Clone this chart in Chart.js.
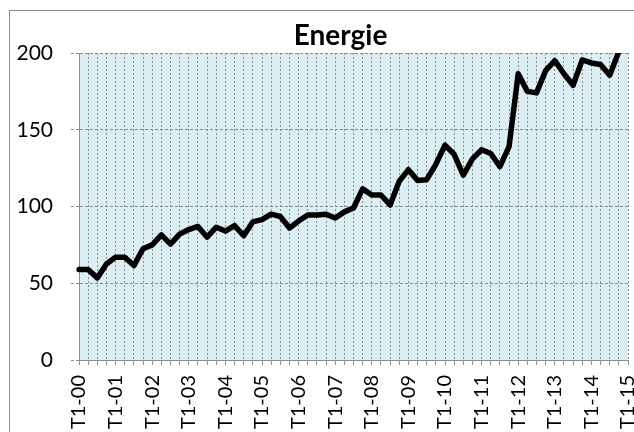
<!DOCTYPE html>
<html>
<head>
<meta charset="utf-8">
<script src="https://cdn.jsdelivr.net/npm/chart.js@4/dist/chart.umd.min.js"></script>
<style>
  html, body { margin: 0; padding: 0; background: #ffffff; }
  #wrap { width: 634px; height: 432px; position: relative; }
</style>
</head>
<body>
<div id="wrap"><canvas id="c" width="634" height="432"></canvas></div>
<script>
// ---- data ----
const years = ['00','01','02','03','04','05','06','07','08','09','10','11','12','13','14','15'];
const quarters = ['T1','T2','T3','T4'];
const categories = years.flatMap(y => quarters.map(q => q + '-' + y)).slice(0, 61);
const energie = [
  59, 59, 53.5, 62.5, 67, 67, 61.5, 72.5,
  75, 81.5, 75.5, 82, 85, 87, 80, 86.5,
  84, 87.5, 81, 90, 91.5, 95, 93.5, 86,
  90.5, 94.5, 94.5, 95, 92.5, 96.5, 99, 111.5,
  107.5, 107.5, 101, 116.5, 124, 117, 117.5, 127.5,
  140, 134, 120.5, 131, 137, 134.5, 126, 139,
  186.5, 175, 174, 188.5, 195, 186.5, 179, 195.5,
  193.5, 192.5, 185.5, 201, null
];
const yTicks = [0, 50, 100, 150, 200];
const chartTitle = 'Energie';

const bgPlugin = {
  id: 'bg',
  beforeDraw(chart) {
    const ctx = chart.ctx, a = chart.chartArea;
    ctx.save();
    ctx.strokeStyle = '#8c8c8c';
    ctx.lineWidth = 1;
    ctx.strokeRect(9.5, 10.5, 1000, 1000);
    ctx.fillStyle = '#DAEEF3';
    ctx.fillRect(a.left, a.top, a.right - a.left, a.bottom - a.top);
    ctx.restore();
  }
};

const titlePlugin = {
  id: 'titleText',
  afterDraw(chart) {
    const ctx = chart.ctx, a = chart.chartArea;
    ctx.save();
    ctx.fillStyle = '#000000';
    ctx.font = 'bold 28px Lato';
    ctx.textAlign = 'center';
    ctx.textBaseline = 'alphabetic';
    ctx.fillText(chartTitle, (a.left + a.right) / 2 - 13, a.top - 8);
    ctx.restore();
  }
};

new Chart(document.getElementById('c'), {
  type: 'line',
  data: {
    labels: categories,
    datasets: [{
      label: chartTitle,
      data: energie,
      borderColor: '#000000',
      borderWidth: 5.5,
      borderJoinStyle: 'round',
      borderCapStyle: 'round',
      pointRadius: 0,
      tension: 0,
      fill: false
    }]
  },
  options: {
    responsive: false,
    animation: false,
    layout: { padding: { left: 10, right: 6, top: 53, bottom: 0 } },
    plugins: {
      legend: { display: false },
      tooltip: { enabled: false },
      title: { display: false }
    },
    scales: {
      x: {
        type: 'category',
        offset: false,
        grid: {
          color: '#8f8f8f',
          lineWidth: 1,
          tickLength: 5,
          tickColor: '#8f8f8f',
          tickBorderDash: []
        },
        border: { display: true, color: '#8c8c8c', width: 1, dash: [2, 2] },
        ticks: {
          autoSkip: false,
          minRotation: 90,
          maxRotation: 90,
          padding: 10,
          color: '#000000',
          font: { family: 'Lato', size: 20 },
          callback: function(value) {
            const l = this.getLabelForValue(value);
            return l.startsWith('T1') ? l : '';
          }
        },
        afterFit(scale) {
          scale.height = 72;
          scale.paddingLeft = 0;
          scale.paddingRight = 0;
        }
      },
      y: {
        min: 0,
        max: 200,
        afterBuildTicks(scale) {
          scale.ticks = yTicks.map(v => ({ value: v }));
        },
        grid: {
          color: '#8c8c8c',
          lineWidth: 1,
          tickLength: 8,
          tickColor: '#8c8c8c',
          tickBorderDash: [3, 2]
        },
        border: { display: true, color: '#8c8c8c', width: 1, dash: [3, 2] },
        ticks: {
          padding: 18,
          color: '#000000',
          font: { family: 'Lato', size: 21 }
        },
        afterFit(scale) {
          scale.width = 69;
          scale.paddingTop = 0;
          scale.paddingBottom = 0;
        }
      }
    }
  },
  plugins: [bgPlugin, titlePlugin]
});
</script>
</body>
</html>
